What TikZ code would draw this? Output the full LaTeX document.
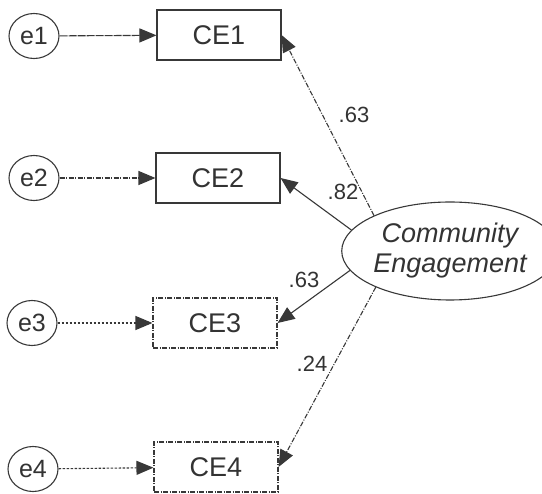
\documentclass[tikz,border=0pt]{standalone}
\usepackage{fontspec}
\setmainfont{Liberation Sans}
\usetikzlibrary{arrows.meta,shapes.geometric}

\begin{document}
\begin{tikzpicture}[x=1pt,y=-1pt,
 ink/.style={draw=black!78, line width=1.1pt},
 errnode/.style={ellipse, ink, minimum width=50pt, minimum height=45pt, inner sep=0pt, font=\fontsize{25}{28}\selectfont, text=black!80},
 obsbox/.style={rectangle, ink, minimum width=124pt, minimum height=50pt, inner sep=0pt, font=\fontsize{27}{30}\selectfont, text=black!80},
 latent/.style={ellipse, ink, minimum width=182pt, minimum height=98pt, inner sep=0pt, align=center, font=\fontsize{27}{30}\selectfont\itshape, text=black!80},
 pathar/.style={ink, -{Triangle[length=17pt,width=14pt]}},
 dashdot/.style={dash pattern=on 5pt off 1.5pt on 1pt off 1.5pt},
 dotline/.style={dash pattern=on 2.5pt off 1.5pt},
 coef/.style={font=\fontsize{22}{24}\selectfont, text=black!80, inner sep=0pt}]

\fill[white] (0,0) rectangle (542,494);
\useasboundingbox (0,0) rectangle (542,494);

\node[errnode] (e1) at (34,36) {e1};
\node[errnode] (e2) at (34,178) {e2};
\node[errnode] (e3) at (32,323) {e3};
\node[errnode] (e4) at (33,469) {e4};

\node[obsbox] (ce1) at (219,35) {CE1};
\node[obsbox] (ce2) at (218,178) {CE2};
\node[obsbox, dashdot] (ce3) at (215,323) {CE3};
\node[obsbox, dashdot] (ce4) at (216,467) {CE4};

\node[latent] (eng) at (450,251) {Community\\Engagement};

\draw[pathar, dash pattern=on 8pt off 1pt] (e1) -- (ce1);
\draw[pathar, dashdot] (e2) -- (ce2);
\draw[pathar, dotline] (e3) -- (ce3);
\draw[pathar, dotline] (e4) -- (ce4);

\draw[pathar, dashdot] (eng.155) -- (ce1.east);
\draw[pathar] (eng.168) -- (ce2.east);
\draw[pathar] (eng.191) -- (ce3.east);
\draw[pathar, dashdot] (eng.206) -- (ce4.east);

\node[coef] (l1) at (354,115) {.63};
\node[coef] (l2) at (343,192) {.82};
\node[coef] (l3) at (304,280) {.63};
\node[coef] (l4) at (312,364) {.24};
\end{tikzpicture}
\end{document}
